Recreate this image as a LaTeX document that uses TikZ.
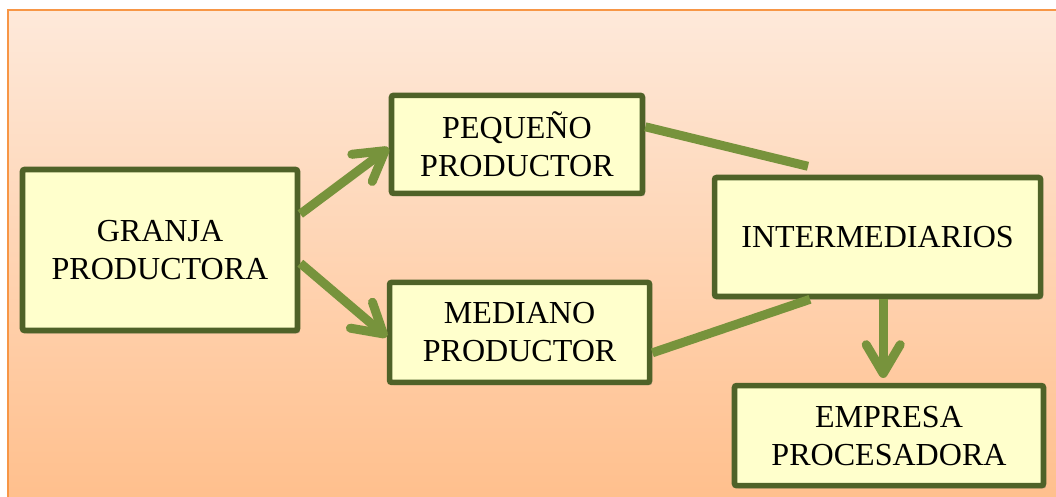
\documentclass[tikz,border=0pt]{standalone}
\usepackage{fontspec}
\setmainfont{Liberation Serif}
\usetikzlibrary{arrows.meta}
\usetikzlibrary{shadows}
\definecolor{boxfill}{HTML}{FFFFCC}
\definecolor{boxline}{HTML}{4F6228}
\definecolor{edgecol}{HTML}{77933C}
\definecolor{bgtop}{HTML}{FEE9DA}
\definecolor{bgbot}{HTML}{FFBF8C}
\definecolor{bgline}{HTML}{F79646}
\tikzset{
    mybox/.style = {rectangle, line width=4pt, draw=boxline, fill=boxfill, rounded corners=1.5pt, align=center, inner sep=0pt,
        font=\fontsize{22.8}{27}\selectfont,
        drop shadow={shadow xshift=0.06cm, shadow yshift=-0.07cm, opacity=0.35, fill=black!60}},
    edgea/.style = {-{Straight Barb[length=0.72cm,width=0.85cm,round]}, line width=6.4pt, edgecol},
    edgel/.style = {line width=6.4pt, edgecol},
    bgpanel/.style = {top color=bgtop, bottom color=bgbot, draw=bgline, line width=1.2pt}
}
\begin{document}
\begin{tikzpicture}
\useasboundingbox (0,0) rectangle (26.4,12.4);
\clip (0,0) rectangle (26.4,12.4);
\path[bgpanel] (0.2,12.15) rectangle (26.6,-0.2);
%
\node[mybox, minimum width=6.875cm, minimum height=4.025cm] at (4.0, 6.15) (granja) {GRANJA\\PRODUCTORA};
\node[mybox, minimum width=6.275cm, minimum height=2.45cm] at (12.925, 8.79) (pequeno) {PEQUEÑO\\PRODUCTOR};
\node[mybox, minimum width=6.5cm, minimum height=2.5cm] at (12.99, 4.09) (mediano) {MEDIANO\\PRODUCTOR};
\node[mybox, minimum width=8.15cm, minimum height=2.975cm] at (21.94, 6.475) (interm) {INTERMEDIARIOS};
\node[mybox, minimum width=7.725cm, minimum height=2.5cm] at (22.225, 1.51) (empresa) {EMPRESA\\PROCESADORA};
%
\coordinate (down) at ([xshift=0.14cm]interm.south);
\draw[edgea] ([yshift=0.9cm]granja.east) -- ([yshift=-0.09cm]pequeno.west);
\draw[edgea] ([yshift=-0.33cm]granja.east) -- ([yshift=-0.11cm]mediano.west);
\draw[edgel] ([yshift=0.44cm]pequeno.east) -- ([xshift=-1.74cm,yshift=0.21cm]interm.north);
\draw[edgel] ([yshift=-0.51cm]mediano.east) -- ([xshift=-1.69cm]interm.south);
\draw[edgea] (down) -- ([yshift=0.12cm]down |- empresa.north);

\end{tikzpicture}
\end{document}
